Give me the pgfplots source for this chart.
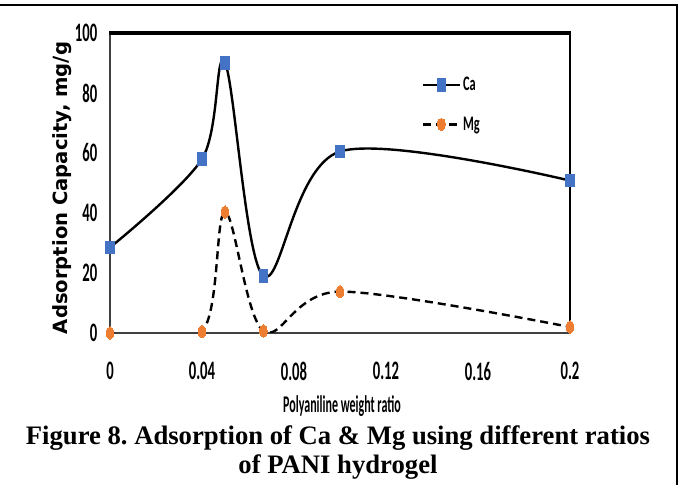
\documentclass[border=0pt]{standalone}
\usepackage{pgfplots}
\pgfplotsset{compat=1.18}
\usepackage{fontspec}
\setmainfont{Liberation Serif}
\newfontfamily\calfont{Carlito}
\newfontfamily\verfont{DejaVu Sans}
\usepackage{graphicx}
\definecolor{cablue}{HTML}{4472C4}
\definecolor{mgorange}{HTML}{ED7D31}
\definecolor{axgray}{HTML}{404040}
\newcommand\cn[1]{\scalebox{0.6}[1]{#1}}
\newcommand\ct[1]{\scalebox{0.55}[1]{#1}}
\frenchspacing
\begin{document}
\begin{tikzpicture}[x=0.75pt,y=0.75pt]
\useasboundingbox (0,0) rectangle (682,495);
% outer frame
\draw[line width=2.2pt] (0,490) -- (677,490) -- (677,10);
% plot-area frame (axis spans 110..570 x 162..462)
\draw[axgray, line width=1.5pt] (110,162) -- (110,462);
\draw[axgray, line width=2.2pt] (110,162) -- (570,162);
\draw[black, line width=1.5pt] (570,162) -- (570,462);
\draw[black, line width=3pt] (109,462) -- (571,462);
\begin{axis}[
  at={(82.5pt,121.5pt)}, anchor=south west,
  scale only axis, width=345pt, height=225pt,
  xmin=0, xmax=0.2, ymin=0, ymax=100,
  clip=true, clip marker paths=false,
  axis line style={draw=none},
  major tick length=0pt,
  xtick={0,0.04,0.08,0.12,0.16,0.2},
  xticklabels={\ct{0},\ct{0.04},\ct{0.08},\ct{0.12},\ct{0.16},\ct{0.2}},
  ytick={0,20,40,60,80,100},
  yticklabels={\ct{0},\ct{20},\ct{40},\ct{60},\ct{80},\ct{100}},
  tick label style={font=\calfont\bfseries\fontsize{20}{22}\selectfont},
  xticklabel style={yshift=-18.5pt},
  yticklabel style={xshift=-6pt},
  legend style={at={(rel axis cs:0.677,0.867)}, anchor=north west,
    draw=none, fill=none, inner sep=0pt, row sep=12pt,
    font=\calfont\bfseries\fontsize{15.5}{17}\selectfont,
    nodes={inner xsep=1.5pt, inner ysep=3pt}},
  legend cell align=left,
  legend image code/.code={\draw[mark repeat=2,mark phase=2,#1] plot coordinates {(0pt,0pt) (13.9pt,0pt) (27.75pt,0pt)};},
]
\addplot[black, line width=1.8pt, smooth, tension=0.55,
  mark=square*, mark size=4.7pt,
  mark options={solid, fill=cablue, draw=cablue, line width=0pt, xscale=0.68}]
  coordinates {(0,28.5) (0.04,58) (0.05,90) (0.0667,19) (0.1,60.5) (0.2,50.8)};
\addlegendentry{\cn{Ca}}
\addplot[black, line width=1.8pt, smooth, tension=0.55, dash pattern=on 6pt off 3.75pt,
  mark=*, mark size=4.7pt,
  mark options={solid, fill=mgorange, draw=mgorange, line width=0pt, xscale=0.6}]
  coordinates {(0,0) (0.04,0.5) (0.05,40.3) (0.0667,0.7) (0.1,13.8) (0.2,2)};
\addlegendentry{\cn{Mg}}
\end{axis}
% y label
\node[rotate=90, font=\verfont\bfseries\fontsize{14.7}{16}\selectfont] at (62,307) {Adsorption Capacity, mg/g};
% x label
\node[font=\calfont\bfseries\fontsize{18}{20}\selectfont] at (342,89) {\scalebox{0.5}[1]{Polyaniline weight ratio}};
% caption
\node[anchor=base, font=\bfseries\fontsize{20}{24}\selectfont] at (338,50) {Figure 8. Adsorption of Ca \& Mg using different ratios};
\node[anchor=base, font=\bfseries\fontsize{20}{24}\selectfont] at (338,21) {of PANI hydrogel};
\end{tikzpicture}
\end{document}
